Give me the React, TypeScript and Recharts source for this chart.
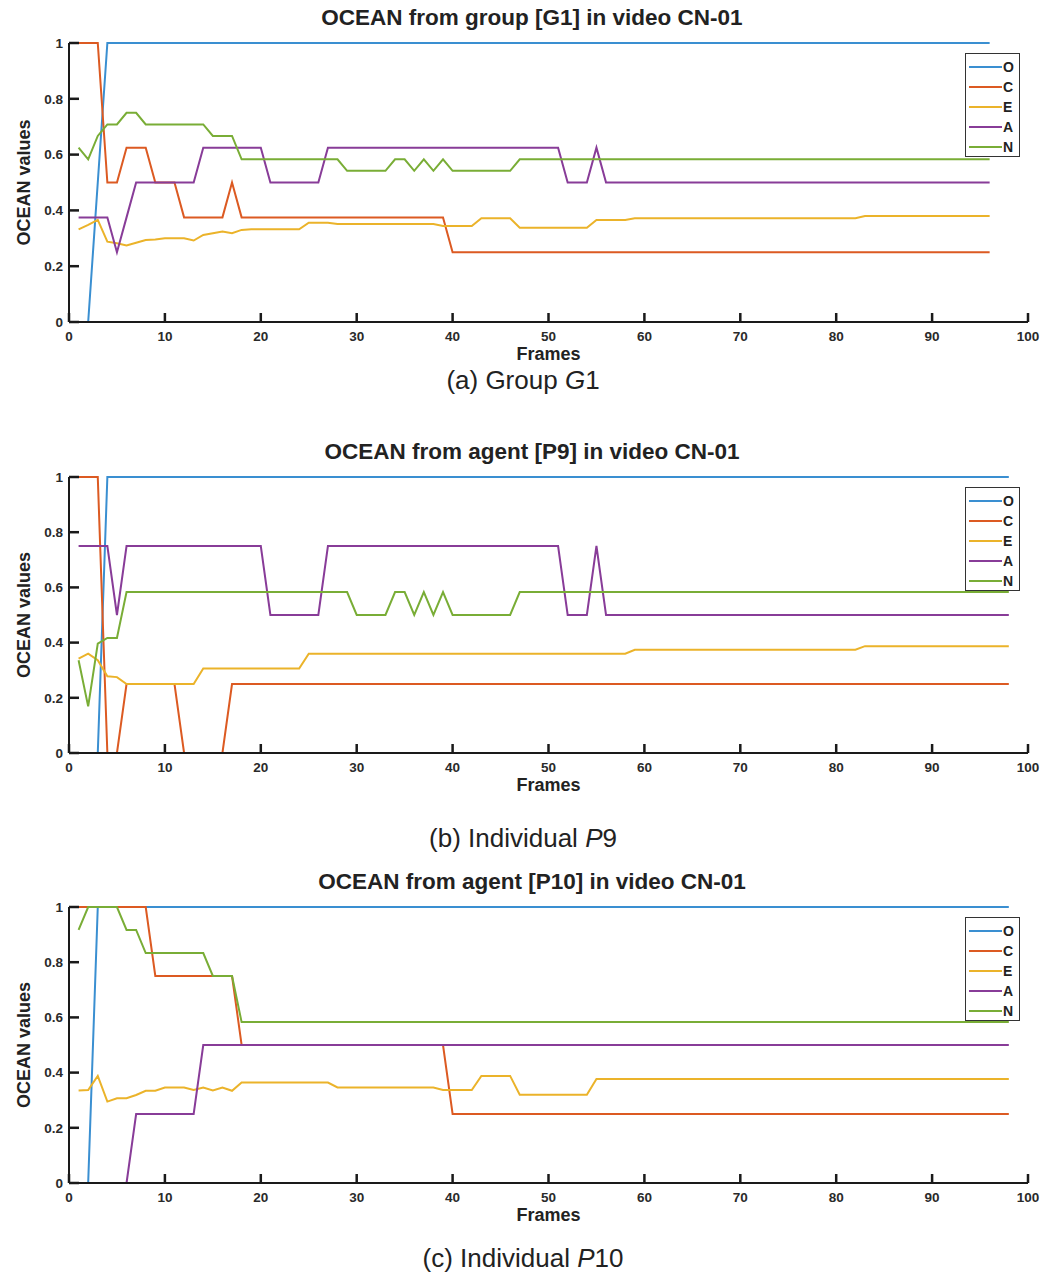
import { LineChart, Line, XAxis, YAxis, Legend } from 'recharts';

const FONT = '"Liberation Sans", Arial, Helvetica, sans-serif';

const traits = ['O', 'C', 'E', 'A', 'N'];
const traitColors = ['#3a8fd1', '#dc5a22', '#ebb32a', '#883c98', '#79ad36'];
const xTicks = [0, 10, 20, 30, 40, 50, 60, 70, 80, 90, 100];
const yTicks = [0, 0.2, 0.4, 0.6, 0.8, 1];

// Group G1, frames 1-96
const g1O = [
  null, 0, 0.5, 1, 1, 1, 1, 1, 1, 1,
  1, 1, 1, 1, 1, 1, 1, 1, 1, 1,
  1, 1, 1, 1, 1, 1, 1, 1, 1, 1,
  1, 1, 1, 1, 1, 1, 1, 1, 1, 1,
  1, 1, 1, 1, 1, 1, 1, 1, 1, 1,
  1, 1, 1, 1, 1, 1, 1, 1, 1, 1,
  1, 1, 1, 1, 1, 1, 1, 1, 1, 1,
  1, 1, 1, 1, 1, 1, 1, 1, 1, 1,
  1, 1, 1, 1, 1, 1, 1, 1, 1, 1,
  1, 1, 1, 1, 1, 1,
];
const g1C = [
  1, 1, 1, 0.5, 0.5, 0.625, 0.625, 0.625, 0.5, 0.5,
  0.5, 0.375, 0.375, 0.375, 0.375, 0.375, 0.5, 0.375, 0.375, 0.375,
  0.375, 0.375, 0.375, 0.375, 0.375, 0.375, 0.375, 0.375, 0.375, 0.375,
  0.375, 0.375, 0.375, 0.375, 0.375, 0.375, 0.375, 0.375, 0.375, 0.25,
  0.25, 0.25, 0.25, 0.25, 0.25, 0.25, 0.25, 0.25, 0.25, 0.25,
  0.25, 0.25, 0.25, 0.25, 0.25, 0.25, 0.25, 0.25, 0.25, 0.25,
  0.25, 0.25, 0.25, 0.25, 0.25, 0.25, 0.25, 0.25, 0.25, 0.25,
  0.25, 0.25, 0.25, 0.25, 0.25, 0.25, 0.25, 0.25, 0.25, 0.25,
  0.25, 0.25, 0.25, 0.25, 0.25, 0.25, 0.25, 0.25, 0.25, 0.25,
  0.25, 0.25, 0.25, 0.25, 0.25, 0.25,
];
const g1E = [
  0.332, 0.348, 0.366, 0.288, 0.282, 0.274, 0.284, 0.294, 0.296, 0.3,
  0.3, 0.3, 0.292, 0.312, 0.318, 0.324, 0.318, 0.33, 0.332, 0.332,
  0.332, 0.332, 0.332, 0.332, 0.356, 0.356, 0.356, 0.351, 0.351, 0.351,
  0.351, 0.351, 0.351, 0.351, 0.351, 0.351, 0.351, 0.351, 0.344, 0.344,
  0.344, 0.344, 0.372, 0.372, 0.372, 0.372, 0.338, 0.338, 0.338, 0.338,
  0.338, 0.338, 0.338, 0.338, 0.366, 0.366, 0.366, 0.366, 0.372, 0.372,
  0.372, 0.372, 0.372, 0.372, 0.372, 0.372, 0.372, 0.372, 0.372, 0.372,
  0.372, 0.372, 0.372, 0.372, 0.372, 0.372, 0.372, 0.372, 0.372, 0.372,
  0.372, 0.372, 0.38, 0.38, 0.38, 0.38, 0.38, 0.38, 0.38, 0.38,
  0.38, 0.38, 0.38, 0.38, 0.38, 0.38,
];
const g1A = [
  0.375, 0.375, 0.375, 0.375, 0.25, 0.375, 0.5, 0.5, 0.5, 0.5,
  0.5, 0.5, 0.5, 0.625, 0.625, 0.625, 0.625, 0.625, 0.625, 0.625,
  0.5, 0.5, 0.5, 0.5, 0.5, 0.5, 0.625, 0.625, 0.625, 0.625,
  0.625, 0.625, 0.625, 0.625, 0.625, 0.625, 0.625, 0.625, 0.625, 0.625,
  0.625, 0.625, 0.625, 0.625, 0.625, 0.625, 0.625, 0.625, 0.625, 0.625,
  0.625, 0.5, 0.5, 0.5, 0.625, 0.5, 0.5, 0.5, 0.5, 0.5,
  0.5, 0.5, 0.5, 0.5, 0.5, 0.5, 0.5, 0.5, 0.5, 0.5,
  0.5, 0.5, 0.5, 0.5, 0.5, 0.5, 0.5, 0.5, 0.5, 0.5,
  0.5, 0.5, 0.5, 0.5, 0.5, 0.5, 0.5, 0.5, 0.5, 0.5,
  0.5, 0.5, 0.5, 0.5, 0.5, 0.5,
];
const g1N = [
  0.625, 0.583, 0.667, 0.708, 0.708, 0.75, 0.75, 0.708, 0.708, 0.708,
  0.708, 0.708, 0.708, 0.708, 0.667, 0.667, 0.667, 0.583, 0.583, 0.583,
  0.583, 0.583, 0.583, 0.583, 0.583, 0.583, 0.583, 0.583, 0.542, 0.542,
  0.542, 0.542, 0.542, 0.583, 0.583, 0.542, 0.583, 0.542, 0.583, 0.542,
  0.542, 0.542, 0.542, 0.542, 0.542, 0.542, 0.583, 0.583, 0.583, 0.583,
  0.583, 0.583, 0.583, 0.583, 0.583, 0.583, 0.583, 0.583, 0.583, 0.583,
  0.583, 0.583, 0.583, 0.583, 0.583, 0.583, 0.583, 0.583, 0.583, 0.583,
  0.583, 0.583, 0.583, 0.583, 0.583, 0.583, 0.583, 0.583, 0.583, 0.583,
  0.583, 0.583, 0.583, 0.583, 0.583, 0.583, 0.583, 0.583, 0.583, 0.583,
  0.583, 0.583, 0.583, 0.583, 0.583, 0.583,
];

// Agent P9, frames 1-98
const p9O = [
  null, null, 0, 1, 1, 1, 1, 1, 1, 1,
  1, 1, 1, 1, 1, 1, 1, 1, 1, 1,
  1, 1, 1, 1, 1, 1, 1, 1, 1, 1,
  1, 1, 1, 1, 1, 1, 1, 1, 1, 1,
  1, 1, 1, 1, 1, 1, 1, 1, 1, 1,
  1, 1, 1, 1, 1, 1, 1, 1, 1, 1,
  1, 1, 1, 1, 1, 1, 1, 1, 1, 1,
  1, 1, 1, 1, 1, 1, 1, 1, 1, 1,
  1, 1, 1, 1, 1, 1, 1, 1, 1, 1,
  1, 1, 1, 1, 1, 1, 1, 1,
];
const p9C = [
  1, 1, 1, 0, 0, 0.25, 0.25, 0.25, 0.25, 0.25,
  0.25, 0, 0, 0, 0, 0, 0.25, 0.25, 0.25, 0.25,
  0.25, 0.25, 0.25, 0.25, 0.25, 0.25, 0.25, 0.25, 0.25, 0.25,
  0.25, 0.25, 0.25, 0.25, 0.25, 0.25, 0.25, 0.25, 0.25, 0.25,
  0.25, 0.25, 0.25, 0.25, 0.25, 0.25, 0.25, 0.25, 0.25, 0.25,
  0.25, 0.25, 0.25, 0.25, 0.25, 0.25, 0.25, 0.25, 0.25, 0.25,
  0.25, 0.25, 0.25, 0.25, 0.25, 0.25, 0.25, 0.25, 0.25, 0.25,
  0.25, 0.25, 0.25, 0.25, 0.25, 0.25, 0.25, 0.25, 0.25, 0.25,
  0.25, 0.25, 0.25, 0.25, 0.25, 0.25, 0.25, 0.25, 0.25, 0.25,
  0.25, 0.25, 0.25, 0.25, 0.25, 0.25, 0.25, 0.25,
];
const p9E = [
  0.342, 0.36, 0.336, 0.278, 0.275, 0.25, 0.25, 0.25, 0.25, 0.25,
  0.25, 0.25, 0.25, 0.306, 0.306, 0.306, 0.306, 0.306, 0.306, 0.306,
  0.306, 0.306, 0.306, 0.306, 0.36, 0.36, 0.36, 0.36, 0.36, 0.36,
  0.36, 0.36, 0.36, 0.36, 0.36, 0.36, 0.36, 0.36, 0.36, 0.36,
  0.36, 0.36, 0.36, 0.36, 0.36, 0.36, 0.36, 0.36, 0.36, 0.36,
  0.36, 0.36, 0.36, 0.36, 0.36, 0.36, 0.36, 0.36, 0.374, 0.374,
  0.374, 0.374, 0.374, 0.374, 0.374, 0.374, 0.374, 0.374, 0.374, 0.374,
  0.374, 0.374, 0.374, 0.374, 0.374, 0.374, 0.374, 0.374, 0.374, 0.374,
  0.374, 0.374, 0.387, 0.387, 0.387, 0.387, 0.387, 0.387, 0.387, 0.387,
  0.387, 0.387, 0.387, 0.387, 0.387, 0.387, 0.387, 0.387,
];
const p9A = [
  0.75, 0.75, 0.75, 0.75, 0.5, 0.75, 0.75, 0.75, 0.75, 0.75,
  0.75, 0.75, 0.75, 0.75, 0.75, 0.75, 0.75, 0.75, 0.75, 0.75,
  0.5, 0.5, 0.5, 0.5, 0.5, 0.5, 0.75, 0.75, 0.75, 0.75,
  0.75, 0.75, 0.75, 0.75, 0.75, 0.75, 0.75, 0.75, 0.75, 0.75,
  0.75, 0.75, 0.75, 0.75, 0.75, 0.75, 0.75, 0.75, 0.75, 0.75,
  0.75, 0.5, 0.5, 0.5, 0.75, 0.5, 0.5, 0.5, 0.5, 0.5,
  0.5, 0.5, 0.5, 0.5, 0.5, 0.5, 0.5, 0.5, 0.5, 0.5,
  0.5, 0.5, 0.5, 0.5, 0.5, 0.5, 0.5, 0.5, 0.5, 0.5,
  0.5, 0.5, 0.5, 0.5, 0.5, 0.5, 0.5, 0.5, 0.5, 0.5,
  0.5, 0.5, 0.5, 0.5, 0.5, 0.5, 0.5, 0.5,
];
const p9N = [
  0.336, 0.169, 0.396, 0.417, 0.417, 0.583, 0.583, 0.583, 0.583, 0.583,
  0.583, 0.583, 0.583, 0.583, 0.583, 0.583, 0.583, 0.583, 0.583, 0.583,
  0.583, 0.583, 0.583, 0.583, 0.583, 0.583, 0.583, 0.583, 0.583, 0.5,
  0.5, 0.5, 0.5, 0.583, 0.583, 0.5, 0.583, 0.5, 0.583, 0.5,
  0.5, 0.5, 0.5, 0.5, 0.5, 0.5, 0.583, 0.583, 0.583, 0.583,
  0.583, 0.583, 0.583, 0.583, 0.583, 0.583, 0.583, 0.583, 0.583, 0.583,
  0.583, 0.583, 0.583, 0.583, 0.583, 0.583, 0.583, 0.583, 0.583, 0.583,
  0.583, 0.583, 0.583, 0.583, 0.583, 0.583, 0.583, 0.583, 0.583, 0.583,
  0.583, 0.583, 0.583, 0.583, 0.583, 0.583, 0.583, 0.583, 0.583, 0.583,
  0.583, 0.583, 0.583, 0.583, 0.583, 0.583, 0.583, 0.583,
];

// Agent P10, frames 1-98
const p10O = [
  null, 0, 1, 1, 1, 1, 1, 1, 1, 1,
  1, 1, 1, 1, 1, 1, 1, 1, 1, 1,
  1, 1, 1, 1, 1, 1, 1, 1, 1, 1,
  1, 1, 1, 1, 1, 1, 1, 1, 1, 1,
  1, 1, 1, 1, 1, 1, 1, 1, 1, 1,
  1, 1, 1, 1, 1, 1, 1, 1, 1, 1,
  1, 1, 1, 1, 1, 1, 1, 1, 1, 1,
  1, 1, 1, 1, 1, 1, 1, 1, 1, 1,
  1, 1, 1, 1, 1, 1, 1, 1, 1, 1,
  1, 1, 1, 1, 1, 1, 1, 1,
];
const p10C = [
  1, 1, 1, 1, 1, 1, 1, 1, 0.75, 0.75,
  0.75, 0.75, 0.75, 0.75, 0.75, 0.75, 0.75, 0.5, 0.5, 0.5,
  0.5, 0.5, 0.5, 0.5, 0.5, 0.5, 0.5, 0.5, 0.5, 0.5,
  0.5, 0.5, 0.5, 0.5, 0.5, 0.5, 0.5, 0.5, 0.5, 0.25,
  0.25, 0.25, 0.25, 0.25, 0.25, 0.25, 0.25, 0.25, 0.25, 0.25,
  0.25, 0.25, 0.25, 0.25, 0.25, 0.25, 0.25, 0.25, 0.25, 0.25,
  0.25, 0.25, 0.25, 0.25, 0.25, 0.25, 0.25, 0.25, 0.25, 0.25,
  0.25, 0.25, 0.25, 0.25, 0.25, 0.25, 0.25, 0.25, 0.25, 0.25,
  0.25, 0.25, 0.25, 0.25, 0.25, 0.25, 0.25, 0.25, 0.25, 0.25,
  0.25, 0.25, 0.25, 0.25, 0.25, 0.25, 0.25, 0.25,
];
const p10E = [
  0.335, 0.337, 0.388, 0.295, 0.307, 0.307, 0.319, 0.334, 0.334, 0.346,
  0.346, 0.346, 0.337, 0.346, 0.335, 0.346, 0.334, 0.364, 0.364, 0.364,
  0.364, 0.364, 0.364, 0.364, 0.364, 0.364, 0.364, 0.346, 0.346, 0.346,
  0.346, 0.346, 0.346, 0.346, 0.346, 0.346, 0.346, 0.346, 0.337, 0.337,
  0.337, 0.337, 0.388, 0.388, 0.388, 0.388, 0.32, 0.32, 0.32, 0.32,
  0.32, 0.32, 0.32, 0.32, 0.377, 0.377, 0.377, 0.377, 0.377, 0.377,
  0.377, 0.377, 0.377, 0.377, 0.377, 0.377, 0.377, 0.377, 0.377, 0.377,
  0.377, 0.377, 0.377, 0.377, 0.377, 0.377, 0.377, 0.377, 0.377, 0.377,
  0.377, 0.377, 0.377, 0.377, 0.377, 0.377, 0.377, 0.377, 0.377, 0.377,
  0.377, 0.377, 0.377, 0.377, 0.377, 0.377, 0.377, 0.377,
];
const p10A = [
  null, null, null, null, null, 0, 0.25, 0.25, 0.25, 0.25,
  0.25, 0.25, 0.25, 0.5, 0.5, 0.5, 0.5, 0.5, 0.5, 0.5,
  0.5, 0.5, 0.5, 0.5, 0.5, 0.5, 0.5, 0.5, 0.5, 0.5,
  0.5, 0.5, 0.5, 0.5, 0.5, 0.5, 0.5, 0.5, 0.5, 0.5,
  0.5, 0.5, 0.5, 0.5, 0.5, 0.5, 0.5, 0.5, 0.5, 0.5,
  0.5, 0.5, 0.5, 0.5, 0.5, 0.5, 0.5, 0.5, 0.5, 0.5,
  0.5, 0.5, 0.5, 0.5, 0.5, 0.5, 0.5, 0.5, 0.5, 0.5,
  0.5, 0.5, 0.5, 0.5, 0.5, 0.5, 0.5, 0.5, 0.5, 0.5,
  0.5, 0.5, 0.5, 0.5, 0.5, 0.5, 0.5, 0.5, 0.5, 0.5,
  0.5, 0.5, 0.5, 0.5, 0.5, 0.5, 0.5, 0.5,
];
const p10N = [
  0.917, 1, 1, 1, 1, 0.917, 0.917, 0.833, 0.833, 0.833,
  0.833, 0.833, 0.833, 0.833, 0.75, 0.75, 0.75, 0.583, 0.583, 0.583,
  0.583, 0.583, 0.583, 0.583, 0.583, 0.583, 0.583, 0.583, 0.583, 0.583,
  0.583, 0.583, 0.583, 0.583, 0.583, 0.583, 0.583, 0.583, 0.583, 0.583,
  0.583, 0.583, 0.583, 0.583, 0.583, 0.583, 0.583, 0.583, 0.583, 0.583,
  0.583, 0.583, 0.583, 0.583, 0.583, 0.583, 0.583, 0.583, 0.583, 0.583,
  0.583, 0.583, 0.583, 0.583, 0.583, 0.583, 0.583, 0.583, 0.583, 0.583,
  0.583, 0.583, 0.583, 0.583, 0.583, 0.583, 0.583, 0.583, 0.583, 0.583,
  0.583, 0.583, 0.583, 0.583, 0.583, 0.583, 0.583, 0.583, 0.583, 0.583,
  0.583, 0.583, 0.583, 0.583, 0.583, 0.583, 0.583, 0.583,
];

type Row = Record<string, number | null>;

// one row per frame, keyed by trait letter
function buildRows(series: (number | null)[][]): Row[] {
  return series[0].map((_, i) => {
    const row: Row = { frame: i + 1 };
    traits.forEach((t, k) => {
      row[t] = series[k][i];
    });
    return row;
  });
}

const g1Rows = buildRows([g1O, g1C, g1E, g1A, g1N]);
const p9Rows = buildRows([p9O, p9C, p9E, p9A, p9N]);
const p10Rows = buildRows([p10O, p10C, p10E, p10A, p10N]);

const AXIS = '#1a1a1a';
const X_TICK_LEN = 9;
const Y_TICK_LEN = 10;
const TICK_W = 2.5;

// tick marks are drawn inward as small filled bars; label sits outside
const XTick = (props: any) => {
  const x = Number(props.x);
  const y = Number(props.y);
  return (
    <g>
      <rect x={x - TICK_W / 2} y={y - X_TICK_LEN} width={TICK_W} height={X_TICK_LEN} fill={AXIS} />
      <text x={x} y={y + 19} textAnchor="middle" fontFamily={FONT} fontSize={13.5} fontWeight="bold" fill="#2a2a2a">
        {props.payload.value}
      </text>
    </g>
  );
};

const YTick = (props: any) => {
  const x = Number(props.x);
  const y = Number(props.y);
  return (
    <g>
      <rect x={x} y={y - TICK_W / 2} width={Y_TICK_LEN} height={TICK_W} fill={AXIS} />
      <text x={x - 6} y={y} dy="0.35em" textAnchor="end" fontFamily={FONT} fontSize={13.5} fontWeight="bold" fill="#2a2a2a">
        {props.payload.value}
      </text>
    </g>
  );
};

const OceanLegend = () => (
  <div
    style={{
      width: 55,
      height: 104,
      boxSizing: 'border-box',
      border: '1.5px solid #333',
      background: '#fff',
      padding: '3px 0 0 3px',
    }}
  >
    {traits.map((t, k) => (
      <div key={t} style={{ display: 'flex', alignItems: 'center', height: 20 }}>
        <span style={{ display: 'block', width: 33, height: 2, background: traitColors[k] }} />
        <span style={{ marginLeft: 1, font: `bold 14px ${FONT}`, color: '#222', lineHeight: '20px' }}>{t}</span>
      </div>
    ))}
  </div>
);

interface PanelProps {
  top: number;
  plotHeight: number;
  title: string;
  rows: Row[];
}

function OceanPanel({ top, plotHeight, title, rows }: PanelProps) {
  const height = 43 + plotHeight + 20 + 30;
  return (
    <div style={{ position: 'absolute', left: 0, top, width: 1046, height }}>
      <div
        style={{
          position: 'absolute',
          left: 16,
          width: 1032,
          top: 5,
          textAlign: 'center',
          font: `bold 22.5px ${FONT}`,
          color: '#222',
        }}
      >
        {title}
      </div>
      <LineChart width={1046} height={height} data={rows} margin={{ top: 43, right: 18, bottom: 30, left: 29 }}>
        {traits.map((t, k) => (
          <Line
            key={t}
            type="linear"
            dataKey={t}
            name={t}
            stroke={traitColors[k]}
            strokeWidth={2}
            dot={false}
            activeDot={false}
            isAnimationActive={false}
          />
        ))}
        <XAxis
          type="number"
          dataKey="frame"
          domain={[0, 100]}
          ticks={xTicks}
          interval={0}
          height={20}
          tickSize={0}
          tickMargin={0}
          tickLine={false}
          axisLine={{ stroke: AXIS, strokeWidth: 2 }}
          tick={XTick}
          label={{
            value: 'Frames',
            position: 'bottom',
            offset: 5,
            style: { fontFamily: FONT, fontSize: 18, fontWeight: 'bold', fill: '#222' },
          }}
        />
        <YAxis
          type="number"
          domain={[0, 1]}
          ticks={yTicks}
          interval={0}
          width={40}
          tickSize={0}
          tickMargin={0}
          tickLine={false}
          axisLine={{ stroke: AXIS, strokeWidth: 2 }}
          tick={YTick}
          label={{
            value: 'OCEAN values',
            angle: -90,
            position: 'left',
            offset: 5,
            style: { textAnchor: 'middle', fontFamily: FONT, fontSize: 18, fontWeight: 'bold', fill: '#222' },
          }}
        />
        <Legend
          layout="vertical"
          align="center"
          verticalAlign="middle"
          content={<OceanLegend />}
          wrapperStyle={{ left: 965, top: 53, width: 55, height: 104 }}
        />
      </LineChart>
    </div>
  );
}

const captionStyle = (top: number): React.CSSProperties => ({
  position: 'absolute',
  left: 0,
  width: 1046,
  top,
  textAlign: 'center',
  font: `26px ${FONT}`,
  color: '#222',
  lineHeight: '30px',
});

export default function App() {
  return (
    <div style={{ position: 'absolute', left: 0, top: 0, width: 1046, height: 1286, background: '#fff' }}>
      <OceanPanel top={0} plotHeight={279} title="OCEAN from group [G1] in video CN-01" rows={g1Rows} />
      <div style={captionStyle(365)}>
        (a) Group <i>G</i>1
      </div>
      <OceanPanel top={434} plotHeight={276} title="OCEAN from agent [P9] in video CN-01" rows={p9Rows} />
      <div style={captionStyle(823)}>
        (b) Individual <i>P</i>9
      </div>
      <OceanPanel top={864} plotHeight={276} title="OCEAN from agent [P10] in video CN-01" rows={p10Rows} />
      <div style={captionStyle(1243)}>
        (c) Individual <i>P</i>10
      </div>
    </div>
  );
}
